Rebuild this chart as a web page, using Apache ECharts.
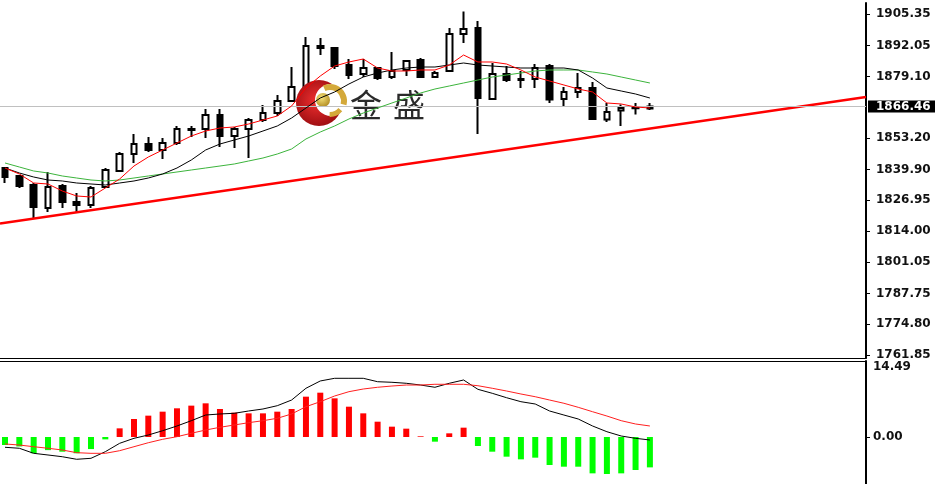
<!DOCTYPE html>
<html><head><meta charset="utf-8">
<script src="https://cdn.jsdelivr.net/npm/echarts@6/dist/echarts.min.js"></script>
<style>html,body{margin:0;padding:0;background:#fff}#c{width:935px;height:484px}</style>
</head><body><div id="c"></div>
<script>
// ---- Data ----
const candleOpen  = [1840.55,1837.19,1833.40,1823.72,1832.98,1826.24,1824.98,1832.56,1839.29,1846.45,1850.66,1848.13,1851.08,1856.55,1856.97,1862.86,1854.02,1856.97,1860.76,1863.70,1868.75,1874.65,1891.90,1891.06,1883.91,1880.12,1882.64,1878.85,1881.80,1886.01,1878.85,1881.38,1896.95,1899.48,1869.60,1880.12,1878.01,1878.01,1883.48,1869.60,1872.54,1874.22,1861.00,1864.80,1865.70,1865.60];
const candleClose = [1836.77,1832.98,1824.14,1832.56,1826.24,1824.98,1832.14,1839.71,1846.45,1850.66,1848.13,1851.08,1856.97,1856.97,1862.86,1854.02,1856.97,1860.76,1863.70,1868.75,1874.65,1891.90,1891.06,1883.48,1879.70,1882.64,1878.43,1881.38,1885.59,1878.85,1880.54,1896.95,1899.06,1870.02,1880.12,1877.59,1877.59,1882.64,1869.40,1872.54,1874.22,1861.18,1864.12,1865.81,1865.95,1866.46];
const candleLow   = [1834.24,1832.14,1819.51,1822.04,1823.72,1822.04,1823.72,1832.14,1839.29,1842.66,1847.29,1844.34,1850.23,1853.60,1853.18,1849.39,1848.97,1844.76,1859.92,1862.44,1868.33,1872.54,1888.11,1882.22,1878.01,1878.85,1877.59,1878.01,1879.28,1878.43,1878.43,1880.96,1893.16,1854.86,1869.17,1876.75,1874.22,1874.22,1867.91,1866.23,1870.02,1860.76,1859.92,1858.23,1863.10,1864.97];
const candleHigh  = [1840.98,1837.61,1834.24,1838.87,1833.82,1830.03,1832.98,1840.55,1847.29,1854.86,1853.60,1853.18,1858.23,1858.23,1865.39,1865.39,1857.81,1861.60,1867.07,1871.28,1883.06,1895.69,1895.27,1891.48,1886.43,1886.43,1883.06,1889.38,1886.01,1886.85,1881.38,1899.48,1906.40,1902.42,1884.75,1883.48,1881.38,1884.33,1884.33,1874.65,1880.54,1876.75,1867.91,1867.30,1867.91,1867.91];

const maFast = [1840.55,1838.03,1834.24,1833.82,1830.87,1828.77,1828.35,1832.13,1835.92,1841.39,1845.18,1848.13,1851.07,1854.02,1856.12,1857.39,1857.81,1859.07,1860.75,1862.44,1866.65,1874.22,1879.27,1883.48,1885.17,1886.43,1882.64,1881.38,1881.38,1881.80,1881.80,1883.90,1888.11,1885.17,1885.17,1884.32,1881.80,1878.85,1877.17,1875.49,1873.80,1872.54,1867.91,1867.49,1866.23,1865.80];
const maMid  = [1840.55,1838.45,1836.76,1835.50,1835.08,1834.24,1833.82,1833.40,1834.24,1835.08,1836.34,1838.03,1840.55,1843.92,1848.13,1850.65,1852.34,1854.02,1856.12,1858.23,1861.60,1865.80,1870.01,1872.54,1875.91,1878.85,1880.54,1881.80,1882.64,1883.06,1883.06,1883.90,1884.74,1883.90,1883.48,1883.06,1882.64,1882.64,1882.64,1882.64,1881.80,1878.43,1874.22,1872.96,1871.70,1870.01];
const maSlow = [1842.66,1840.97,1839.29,1838.45,1837.19,1836.34,1835.50,1835.08,1835.50,1836.34,1837.19,1838.03,1838.87,1839.71,1840.55,1841.39,1842.24,1843.50,1844.76,1846.44,1848.55,1852.76,1855.70,1858.23,1861.18,1863.70,1865.80,1867.91,1870.01,1872.12,1873.80,1875.06,1876.33,1877.59,1878.85,1879.69,1880.54,1881.38,1881.80,1881.80,1881.80,1880.96,1880.11,1878.85,1877.59,1876.33];

const macdHist   = [-1.53,-1.8,-3.1,-2.5,-2.8,-3.1,-2.3,-0.45,1.65,3.43,4.07,4.83,5.47,5.98,6.42,5.34,4.64,4.51,4.51,4.83,5.34,7.69,8.45,7.37,5.78,4.51,2.92,1.97,1.59,0.13,-0.89,0.7,1.78,-1.72,-2.8,-3.75,-4.26,-3.94,-5.34,-5.66,-5.66,-6.93,-7.05,-6.93,-6.29,-5.79];
const macdMain   = [-1.96,-2.15,-3.11,-3.43,-3.76,-4.25,-4.06,-2.80,-1.20,-0.25,0.38,1.20,2.10,3.11,4.19,4.39,4.52,4.96,5.34,5.97,7.05,9.29,10.68,11.19,11.19,11.19,10.54,10.43,10.24,9.91,9.48,10.24,10.87,9.09,8.33,7.49,6.73,6.29,4.96,4.19,3.43,2.10,1.01,0.19,-0.25,-0.57];
const macdSignal = [-1.33,-1.53,-1.85,-2.15,-2.48,-2.99,-3.11,-3.11,-2.61,-1.85,-1.09,-0.44,0.06,0.71,1.33,1.85,2.29,2.73,3.11,3.57,4.39,5.78,6.73,7.82,8.64,9.15,9.48,9.72,9.91,9.91,10.05,10.05,10.05,9.78,9.29,8.77,8.20,7.68,7.05,6.43,5.66,4.82,4.00,3.11,2.48,2.10];

const priceTicks = [1905.35,1892.05,1879.10,1853.20,1839.90,1826.95,1814.00,1801.05,1787.75,1774.80,1761.85];
const macdTicks = [0];
const macdTopTick = [14.49];
const currentPrice = 1866.46;
const trendIdx = [-0.349, 60.08];
const trendPrice = [1817.19, 1870.43];

// ---- Build ----
const X_MIN = -0.349, X_MAX = 60.08;
const candleData = candleOpen.map((o, i) => [i, o, candleClose[i], candleLow[i], candleHigh[i]]);
const pair = arr => arr.map((v, i) => [i, v]);
const labelFont = {fontFamily: 'DejaVu Sans', fontSize: 12, fontWeight: 'bold', color: '#111'};
const hiddenX = (g, pos) => ({
  type: 'value', gridIndex: g, min: X_MIN, max: X_MAX, position: pos,
  axisLine: {show: true, onZero: false, lineStyle: {color: '#000', width: 1}},
  axisTick: {show: false}, axisLabel: {show: false}, splitLine: {show: false}
});

const chart = echarts.init(document.getElementById('c'));
chart.setOption({
  animation: false,
  backgroundColor: '#fff',
  grid: [
    {left: 0, right: 69, top: 3, height: 355},
    {left: 0, right: 69, top: 361, height: 123}
  ],
  xAxis: [hiddenX(0, 'bottom'), hiddenX(1, 'top')],
  yAxis: [
    {type: 'value', gridIndex: 0, position: 'right', min: 1760.58, max: 1910.0,
     axisLine: {show: true, onZero: false, lineStyle: {color: '#000', width: 2}},
     axisTick: {show: true, inside: false, length: 4, customValues: priceTicks, lineStyle: {color: '#000'}},
     axisLabel: Object.assign({customValues: priceTicks, margin: 10, formatter: v => v.toFixed(2)}, labelFont),
     splitLine: {show: false}},
    {type: 'value', gridIndex: 1, position: 'right', min: -8.96, max: 14.49,
     axisLine: {show: true, onZero: false, lineStyle: {color: '#000', width: 2}},
     axisTick: {show: true, inside: false, length: 4, customValues: macdTicks, lineStyle: {color: '#000'}},
     axisLabel: Object.assign({customValues: macdTicks, margin: 7, formatter: v => v.toFixed(2)}, labelFont),
     splitLine: {show: false}},
    {type: 'value', gridIndex: 1, position: 'right', min: -8.96, max: 14.49,
     axisLine: {show: false}, axisTick: {show: false},
     axisLabel: Object.assign({customValues: macdTopTick, margin: 7, verticalAlign: 'top', formatter: v => v.toFixed(2)}, labelFont),
     splitLine: {show: false}}
  ],
  series: [
    {type: 'candlestick', xAxisIndex: 0, yAxisIndex: 0, data: candleData, barWidth: 6, z: 2,
     itemStyle: {color: '#fff', color0: '#000', borderColor: '#000', borderColor0: '#000', borderWidth: 2},
     markLine: {silent: true, symbol: ['none', 'none'], animation: false,
       lineStyle: {color: '#c0c0c0', width: 1, type: 'solid'},
       label: {show: true, position: 'end', distance: 2, formatter: p => p.value.toFixed(2),
         backgroundColor: '#000', color: '#fff', fontFamily: 'DejaVu Sans', fontSize: 12, fontWeight: 'bold',
         padding: [0, 10, 0, 8], lineHeight: 12},
       data: [{yAxis: currentPrice}]}},
    {type: 'line', xAxisIndex: 0, yAxisIndex: 0, data: trendIdx.map((x, i) => [x, trendPrice[i]]),
     symbol: 'none', z: 3, lineStyle: {color: '#ff0000', width: 2.5}},
    {type: 'line', xAxisIndex: 0, yAxisIndex: 0, data: pair(maSlow), symbol: 'none', z: 5, lineStyle: {color: '#3cb43c', width: 1}},
    {type: 'line', xAxisIndex: 0, yAxisIndex: 0, data: pair(maMid), symbol: 'none', z: 5, lineStyle: {color: '#000', width: 1}},
    {type: 'line', xAxisIndex: 0, yAxisIndex: 0, data: pair(maFast), symbol: 'none', z: 5, lineStyle: {color: '#ff0000', width: 1}},
    {type: 'bar', xAxisIndex: 1, yAxisIndex: 1, data: pair(macdHist), barWidth: 6,
     itemStyle: {color: p => p.value[1] >= 0 ? '#ff0000' : '#00ff00'}},
    {type: 'line', xAxisIndex: 1, yAxisIndex: 1, data: pair(macdMain), symbol: 'none', z: 5, lineStyle: {color: '#000', width: 1}},
    {type: 'line', xAxisIndex: 1, yAxisIndex: 1, data: pair(macdSignal), symbol: 'none', z: 5, lineStyle: {color: '#ff2020', width: 1}}
  ],
  graphic: [
    {type: 'circle', z: 4, shape: {cx: 319, cy: 103, r: 23},
     style: {fill: new echarts.graphic.RadialGradient(0.45, 0.45, 0.6, [{offset: 0, color: '#f03030'}, {offset: 1, color: '#9a0c10'}])}},
    {type: 'circle', z: 4, shape: {cx: 331, cy: 100, r: 16}, style: {fill: '#fff'}},
    {type: 'sector', z: 4, shape: {cx: 330, cy: 101, r: 17, r0: 11, startAngle: -2.0, endAngle: 0.25, clockwise: true},
     style: {fill: '#d4a93a'}},
    {type: 'sector', z: 4, shape: {cx: 330, cy: 101, r: 16, r0: 11, startAngle: 0.7, endAngle: 1.6, clockwise: true},
     style: {fill: '#d4a93a'}},
    {type: 'circle', z: 4, shape: {cx: 323, cy: 100, r: 7},
     style: {fill: new echarts.graphic.RadialGradient(0.4, 0.35, 0.7, [{offset: 0, color: '#f6e27a'}, {offset: 1, color: '#b08a20'}])}},
    {type: 'text', z: 4, x: 366, y: 105, style: {text: '金', fontSize: 32, fontFamily: 'Noto Sans CJK SC', fill: '#2a2a2a', align: 'center', verticalAlign: 'middle'}},
    {type: 'text', z: 4, x: 409, y: 105, style: {text: '盛', fontSize: 32, fontFamily: 'Noto Sans CJK SC', fill: '#2a2a2a', align: 'center', verticalAlign: 'middle'}}
  ]
});
</script></body></html>
